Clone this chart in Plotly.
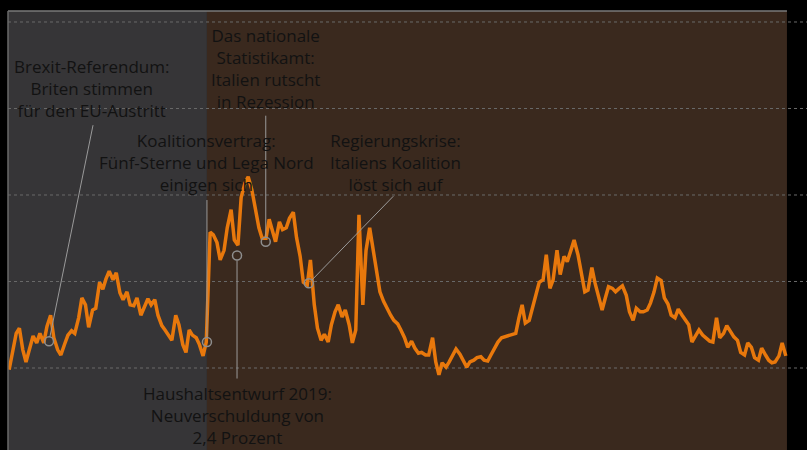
import pandas as pd
import plotly.graph_objects as go

# Semi-monthly observations (1st and 15th of each month), Jan 2016 – May 2025
dates = pd.date_range("2016-01-01", "2025-05-01", freq="SMS")

v2016 = [98, 115, 140, 146, 121, 107, 124, 137, 129, 140, 129, 148, 161, 135, 121, 115, 128, 138, 143, 140, 158, 181, 173, 147]
v2017 = [167, 169, 199, 191, 203, 212, 202, 210, 187, 179, 188, 173, 172, 181, 161, 169, 180, 173, 179, 161, 149, 144, 137, 132]
v2018 = [161, 150, 127, 118, 144, 138, 135, 127, 114, 130, 257, 254, 245, 225, 236, 262, 283, 248, 242, 297, 314, 321, 306, 288]
v2019 = [262, 250, 250, 272, 257, 246, 269, 260, 262, 273, 280, 251, 229, 199, 196, 225, 173, 146, 132, 139, 130, 150, 165, 173]
v2020 = [159, 167, 150, 129, 144, 277, 173, 236, 262, 239, 213, 188, 177, 169, 161, 155, 151, 144, 135, 124, 131, 123, 117, 118]
v2021 = [115, 115, 135, 107, 92, 106, 101, 107, 114, 122, 116, 109, 101, 107, 109, 112, 113, 109, 108, 115, 124, 130, 135, 136]
v2022 = [138, 139, 140, 158, 173, 152, 155, 169, 184, 199, 202, 231, 192, 202, 236, 208, 229, 223, 236, 248, 231, 208, 188, 190]
v2023 = [216, 198, 181, 167, 181, 194, 192, 188, 192, 195, 184, 165, 155, 169, 165, 165, 167, 175, 188, 204, 201, 181, 174, 161]
v2024 = [158, 168, 161, 155, 150, 130, 138, 144, 138, 135, 131, 130, 158, 135, 140, 149, 142, 136, 132, 118, 115, 129, 124, 112]
v2025 = [109, 123, 115, 109, 106, 107, 114, 129, 114]
values = v2016 + v2017 + v2018 + v2019 + v2020 + v2021 + v2022 + v2023 + v2024 + v2025

grid_values = [100, 200, 300, 400, 500]

event_dates = ["2016-06-24", "2018-05-18", "2018-09-27", "2019-01-31", "2019-08-08"]
event_values = [131, 130, 230, 246, 198]
event_texts = [
    "Brexit-Referendum:<br>Briten stimmen<br>für den EU-Austritt",
    "Koalitionsvertrag:<br>Fünf-Sterne und Lega Nord<br>einigen sich",
    "Haushaltsentwurf 2019:<br>Neuverschuldung von<br>2,4 Prozent",
    "Das nationale<br>Statistikamt:<br>Italien rutscht<br>in Rezession",
    "Regierungskrise:<br>Italiens Koalition<br>löst sich auf",
]
# text box centre (paper coords) and connector offsets (pixels from event point)
text_pos = [(0.1039, 0.8246), (0.249, 0.656), (0.2872, 0.0797), (0.3229, 0.870), (0.4844, 0.656)]
conn = [(0.9, 4.4, 44, 216), (0, 5, 0, 142), (0, -5, 0, -123), (0, 5, 0, 126), (3.1, 3.2, 84.5, 87)]

x_start, x_end = "2015-12-27", "2025-08-02"
split_date, data_end = "2018-05-18", "2025-05-06"

fig = go.Figure()
fig.add_trace(go.Scatter(x=dates, y=values, mode="lines",
                         line=dict(color="#e8780c", width=3.5), hoverinfo="skip"))
fig.add_trace(go.Scatter(x=event_dates, y=event_values, mode="markers",
                         marker=dict(symbol="circle-open", size=9,
                                     color="#8e8e8e", line=dict(width=1.5, color="#8e8e8e")),
                         hoverinfo="skip"))

shapes = [
    dict(type="rect", xref="x", yref="paper", x0=x_start, x1=split_date, y0=0, y1=1,
         fillcolor="#363537", line=dict(width=0), layer="below"),
    dict(type="rect", xref="x", yref="paper", x0=split_date, x1=data_end, y0=0, y1=1,
         fillcolor="#3a291e", line=dict(width=0), layer="below"),
    dict(type="line", xref="x", yref="paper", x0=x_start, x1=data_end, y0=1, y1=1,
         line=dict(color="#7a7a7a", width=1.5)),
    dict(type="line", xref="paper", yref="paper", x0=0, x1=0, y0=0, y1=1,
         line=dict(color="#6a6a6a", width=1.5)),
]
for g in grid_values:
    shapes.append(dict(type="line", xref="paper", yref="y", x0=0, x1=1, y0=g, y1=g,
                       line=dict(color="#6a6a6a", width=1, dash="dot"), layer="between"))
for d, v, (x0, y0, x1, y1) in zip(event_dates, event_values, conn):
    shapes.append(dict(type="line", xref="x", yref="y", xsizemode="pixel", ysizemode="pixel",
                       xanchor=d, yanchor=v, x0=x0, y0=y0, x1=x1, y1=y1,
                       line=dict(color="#9a9a9a", width=1), layer="above"))

annotations = []
for t, (px, py) in zip(event_texts, text_pos):
    annotations.append(dict(text=t, xref="paper", yref="paper", x=px, y=py,
                            xanchor="center", yanchor="middle", showarrow=False, align="center",
                            font=dict(family="Open Sans", size=17, color="#121212")))

fig.update_layout(
    width=807, height=450,
    margin=dict(l=8, r=0, t=11, b=0),
    paper_bgcolor="#000000", plot_bgcolor="#000000",
    showlegend=False,
    shapes=shapes, annotations=annotations,
    xaxis=dict(type="date", range=[x_start, x_end], showgrid=False, zeroline=False,
               showticklabels=False, ticks="", showline=False),
    yaxis=dict(range=[5.2, 512.7], showticklabels=False, showgrid=False,
               zeroline=False, ticks="", showline=False),
)
fig.write_html("out.html", config={"displayModeBar": False},
               post_script="document.body.style.margin='0';document.body.style.background='#000';"
                           "document.body.style.overflow='hidden';")
